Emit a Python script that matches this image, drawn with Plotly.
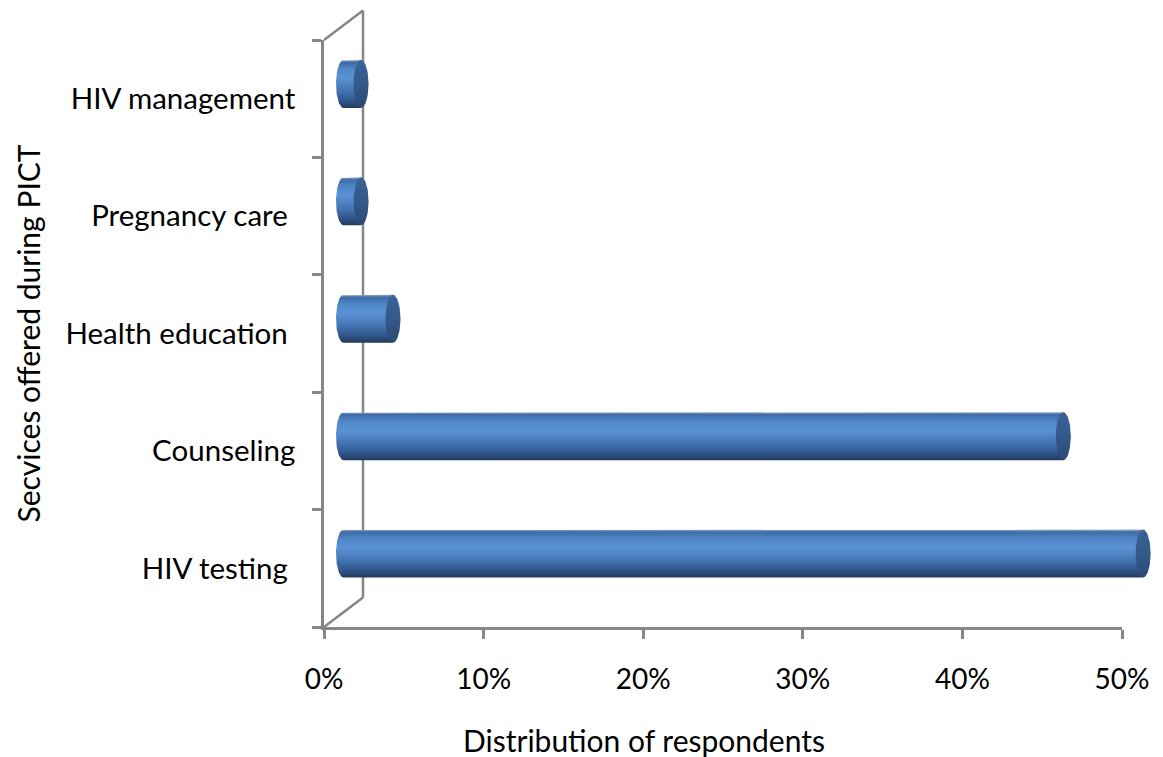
import numpy as np
import plotly.graph_objects as go

# ---------------- data ----------------
categories = ["HIV testing", "Counseling", "Health education", "Pregnancy care", "HIV management"]
tick_labels = ["HIV testing\u00a0", "Counseling", "Health education\u00a0", "Pregnancy care\u00a0", "HIV management"]
values = [0.501, 0.451, 0.031, 0.011, 0.011]
x_ticks = [0, 0.1, 0.2, 0.3, 0.4, 0.5]
x_title = "Distribution of respondents"
y_title = "Secvices offered during PICT"

# ---------------- geometry (pixels) ----------------
W, H = 1163, 757
X0, X1 = 324, 1122          # front plane: pixel of 0% and of 50%
Y_TOP, Y_BOT = 40, 627      # front plane: top / bottom of category axis
DX, DY = 39, 29.5           # depth offset of the back wall
XMAX = 0.5
n = len(categories)
sx = (X1 - X0) / XMAX       # px per unit of value
sy = (Y_BOT - Y_TOP) / n    # px per category

# mid-depth plane on which the cylinders sit (axes span the whole paper)
mx0 = X0 + DX / 2
my0 = Y_BOT - DY / 2
xr2 = [(0 - mx0) / sx, (W - mx0) / sx]
yr2 = [-0.5 + (my0 - H) / sy, -0.5 + my0 / sy]

r = 24 / sy                 # cylinder half-height (category units)
rx = 7.5 / sx               # half-width of the elliptical caps (value units)

AX = "#868686"
FONT = "Lato"

fig = go.Figure()

# invisible trace to build the front category axis
fig.add_trace(go.Scatter(x=[0] * n, y=tick_labels, mode="markers",
                         marker=dict(opacity=0), hoverinfo="skip",
                         showlegend=False, xaxis="x", yaxis="y"))

body_scale = [[0.0, "#22395a"], [0.12, "#2e5183"], [0.35, "#4474b2"],
              [0.62, "#5a92d6"], [0.80, "#5087c8"], [0.95, "#3e6ba6"],
              [0.975, "#6d8bb5"], [1.0, "#9aaecb"]]
cap_scale = [[0.0, "#2a4a74"], [0.5, "#34598a"], [1.0, "#3a6396"]]

t_left = np.linspace(np.pi / 2, 3 * np.pi / 2, 60)
t_full = np.linspace(0, 2 * np.pi, 120)

for i, v in enumerate(values):
    c = i
    xs = [v] + list(rx * np.cos(t_left)) + [v, v]
    ys = [c + r] + list(c + r * np.sin(t_left)) + [c - r, c + r]
    fig.add_trace(go.Scatter(
        x=xs, y=ys, mode="lines", fill="toself", line=dict(width=0),
        fillgradient=dict(type="vertical", colorscale=body_scale,
                          start=c - r, stop=c + r),
        hoverinfo="skip", showlegend=False, xaxis="x2", yaxis="y2"))
    fig.add_trace(go.Scatter(
        x=list(v + rx * np.cos(t_full)), y=list(c + r * np.sin(t_full)),
        mode="lines", fill="toself", line=dict(width=0),
        fillgradient=dict(type="vertical", colorscale=cap_scale,
                          start=c - r, stop=c + r),
        hoverinfo="skip", showlegend=False, xaxis="x2", yaxis="y2"))


def px(x):
    return x / W


def py(y):
    return 1 - y / H


shapes = []
for (xa, ya, xb, yb) in [
    (X0 + DX, Y_TOP - DY, X0 + DX, Y_BOT - DY),
    (X0, Y_TOP, X0 + DX, Y_TOP - DY),
    (X0, Y_BOT, X0 + DX, Y_BOT - DY),
]:
    shapes.append(dict(type="line", xref="paper", yref="paper",
                       x0=px(xa), y0=py(ya), x1=px(xb), y1=py(yb),
                       line=dict(color=AX, width=2.5), layer="below"))

fig.update_layout(
    width=W, height=H,
    margin=dict(l=0, r=0, t=0, b=0, autoexpand=False),
    paper_bgcolor="white", plot_bgcolor="rgba(0,0,0,0)",
    font=dict(family=FONT, size=28, color="black"),
    showlegend=False,
    shapes=shapes,
    xaxis=dict(domain=[px(X0), px(X1)], range=[0, XMAX], anchor="y",
               tickvals=x_ticks, tickformat=".0%", ticks="outside",
               ticklen=9, tickwidth=2.5, tickcolor=AX,
               showline=True, linecolor=AX, linewidth=2.5,
               showgrid=False, zeroline=False, ticklabelstandoff=17,
               automargin=False, fixedrange=True,
               tickfont=dict(family=FONT, size=28, color="black")),
    yaxis=dict(domain=[py(Y_BOT), py(Y_TOP)], range=[-0.5, n - 0.5],
               anchor="x", type="category", categoryorder="array",
               categoryarray=tick_labels, tickson="boundaries",
               ticks="outside", ticklen=9, tickwidth=2.5, tickcolor=AX,
               showline=True, linecolor=AX, linewidth=2.5,
               showgrid=False, zeroline=False, ticklabelstandoff=20,
               automargin=False, fixedrange=True,
               tickfont=dict(family=FONT, size=29.5, color="black")),
    xaxis2=dict(domain=[0, 1], range=xr2, anchor="y2", visible=False,
                automargin=False, fixedrange=True),
    yaxis2=dict(domain=[0, 1], range=yr2, anchor="x2", visible=False,
                automargin=False, fixedrange=True),
    annotations=[
        dict(text=x_title, xref="paper", yref="paper", x=px(643.5), y=py(740),
             xanchor="center", yanchor="middle", showarrow=False,
             font=dict(family=FONT, size=30, color="black")),
        dict(text=y_title, xref="paper", yref="paper", x=px(27), y=py(333.5),
             xanchor="center", yanchor="middle", showarrow=False, textangle=-90,
             font=dict(family=FONT, size=30, color="black")),
    ],
)

fig.write_html("out.html", config={"displayModeBar": False},
               post_script="document.body.style.margin='0';")
